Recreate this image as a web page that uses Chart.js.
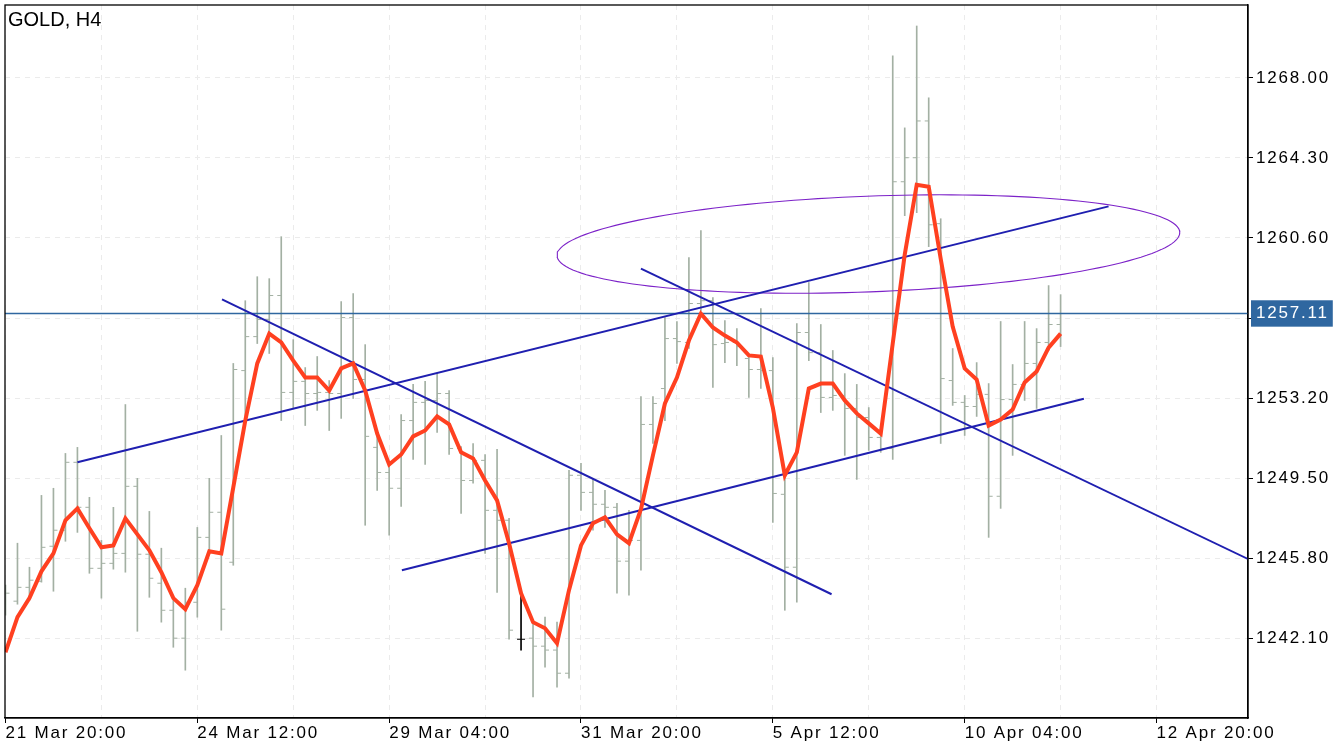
<!DOCTYPE html>
<html>
<head>
<meta charset="utf-8">
<title>GOLD, H4</title>
<script src="https://cdn.jsdelivr.net/npm/chart.js@4.4.1/dist/chart.umd.min.js"></script>
<style>
  html, body { margin: 0; padding: 0; background: #fff; }
  #wrap { position: relative; width: 1334px; height: 750px; }
  #title { position: absolute; left: 8px; top: 9px; font: 20px/20px "Liberation Sans", Arial, sans-serif; color: #000; }
</style>
</head>
<body>
<div id="wrap">
  <canvas id="chart" width="1334" height="750"></canvas>
  <div id="title">GOLD, H4</div>
</div>
<script>
// H4 bars, one value per bar (bar 0 = 21 Mar 20:00)
const opens = [
  1243.62, 1243.81, 1244.45, 1244.73, 1246.35, 1247.09, 1250.23, 1248.15, 1245.33, 1245.56,
  1246.02, 1249.12, 1245.98, 1244.64, 1243.39, 1242.10, 1243.76, 1246.76, 1247.92, 1245.61,
  1254.47, 1256.04, 1256.83, 1257.94, 1253.46, 1253.97, 1253.41, 1253.46, 1253.41, 1256.92,
  1254.06, 1250.92, 1249.76, 1249.03, 1252.16, 1253.00, 1253.09, 1253.41, 1250.87, 1249.39,
  1250.32, 1248.01, 1247.55, 1242.05, 1242.10, 1241.73, 1241.55, 1240.48, 1249.63, 1248.84,
  1248.29, 1248.15, 1245.66, 1246.62, 1251.98, 1253.64, 1255.95, 1255.77, 1257.57, 1257.70,
  1255.72, 1255.77, 1255.03, 1254.52, 1254.47, 1248.75, 1245.38, 1256.23, 1255.30, 1253.23,
  1253.32, 1252.72, 1252.30, 1251.38, 1250.87, 1263.20, 1264.31, 1266.01, 1261.26, 1254.01,
  1253.00, 1252.81, 1253.37, 1248.66, 1253.13, 1253.83, 1254.80, 1255.77, 1256.60
];
const highs = [
  1244.55, 1246.49, 1245.38, 1248.70, 1249.03, 1250.64, 1250.92, 1248.61, 1246.62, 1248.15,
  1252.90, 1249.49, 1247.96, 1246.26, 1243.85, 1244.41, 1247.22, 1249.49, 1251.47, 1254.80,
  1257.70, 1258.81, 1258.72, 1260.66, 1255.90, 1254.61, 1255.12, 1254.01, 1257.66, 1258.03,
  1255.67, 1251.56, 1250.09, 1252.44, 1253.83, 1253.97, 1254.33, 1253.55, 1250.96, 1251.10,
  1250.59, 1250.83, 1247.64, 1244.04, 1242.79, 1243.07, 1242.84, 1249.86, 1250.18, 1249.44,
  1248.93, 1248.33, 1248.01, 1253.27, 1253.27, 1256.92, 1256.74, 1259.69, 1260.94, 1257.84,
  1256.78, 1256.41, 1255.17, 1257.34, 1255.07, 1249.53, 1256.64, 1258.54, 1256.60, 1255.40,
  1254.33, 1253.83, 1252.76, 1251.70, 1269.02, 1265.69, 1270.40, 1267.08, 1261.49, 1255.49,
  1253.32, 1254.84, 1253.87, 1256.74, 1254.75, 1256.74, 1256.41, 1258.40, 1257.98
];
const lows = [
  1243.16, 1243.67, 1243.85, 1244.69, 1244.27, 1246.58, 1246.99, 1245.10, 1243.95, 1245.29,
  1245.15, 1242.42, 1243.99, 1242.84, 1241.68, 1240.62, 1243.07, 1246.07, 1242.47, 1245.47,
  1252.16, 1255.72, 1255.26, 1252.16, 1252.76, 1251.93, 1252.63, 1251.70, 1252.26, 1253.18,
  1247.32, 1248.93, 1246.86, 1248.19, 1250.36, 1250.13, 1251.61, 1250.59, 1247.87, 1249.26,
  1246.02, 1244.22, 1242.05, 1241.55, 1239.38, 1240.76, 1239.84, 1240.25, 1248.01, 1247.09,
  1247.22, 1244.18, 1244.09, 1245.24, 1251.10, 1252.16, 1254.80, 1255.49, 1257.24, 1253.69,
  1254.84, 1254.70, 1253.23, 1253.64, 1247.45, 1243.39, 1243.76, 1254.93, 1252.53, 1252.63,
  1250.55, 1249.44, 1250.78, 1250.69, 1250.36, 1261.63, 1261.77, 1260.20, 1251.10, 1252.86,
  1251.47, 1252.35, 1246.76, 1248.10, 1250.55, 1253.09, 1252.72, 1255.40, 1255.58
];
const closes = [
  1244.18, 1244.45, 1244.78, 1246.30, 1247.09, 1250.23, 1248.15, 1245.33, 1245.56, 1246.02,
  1249.12, 1245.98, 1244.87, 1243.39, 1242.10, 1243.76, 1246.76, 1247.92, 1243.44, 1254.52,
  1256.04, 1256.83, 1257.94, 1253.46, 1253.97, 1253.41, 1253.46, 1253.41, 1256.92, 1254.06,
  1251.43, 1249.76, 1249.03, 1252.16, 1253.00, 1253.09, 1253.41, 1250.87, 1249.39, 1250.32,
  1248.01, 1247.55, 1242.47, 1242.05, 1241.73, 1241.55, 1240.48, 1249.63, 1248.84, 1248.29,
  1248.15, 1245.66, 1246.62, 1251.98, 1252.95, 1255.95, 1255.81, 1257.57, 1257.70, 1255.67,
  1255.77, 1255.58, 1254.52, 1254.47, 1248.79, 1245.38, 1256.23, 1255.30, 1253.23, 1253.32,
  1252.72, 1252.30, 1251.38, 1250.87, 1263.20, 1264.31, 1266.01, 1261.21, 1254.10, 1253.00,
  1252.81, 1253.37, 1248.66, 1253.13, 1253.83, 1254.80, 1255.77, 1256.60, 1257.11
];
// moving average (red line)
const maValues = [
  1241.45, 1243.07, 1243.95, 1245.19, 1246.02, 1247.55, 1248.10, 1247.18, 1246.30, 1246.39,
  1247.64, 1246.90, 1246.16, 1245.15, 1243.95, 1243.44, 1244.55, 1246.12, 1246.02, 1249.07,
  1252.16, 1254.80, 1256.18, 1255.77, 1254.93, 1254.15, 1254.15, 1253.55, 1254.57, 1254.80,
  1253.55, 1251.56, 1250.13, 1250.59, 1251.43, 1251.70, 1252.35, 1251.98, 1250.69, 1250.41,
  1249.39, 1248.47, 1246.49, 1244.18, 1242.84, 1242.56, 1241.87, 1244.32, 1246.39, 1247.41,
  1247.69, 1246.90, 1246.49, 1248.06, 1250.55, 1252.95, 1254.15, 1255.86, 1257.10, 1256.46,
  1256.09, 1255.77, 1255.17, 1255.12, 1252.76, 1249.63, 1250.69, 1253.64, 1253.87, 1253.87,
  1253.09, 1252.49, 1252.03, 1251.56, 1255.72, 1259.83, 1263.06, 1262.97, 1259.64, 1256.50,
  1254.57, 1254.06, 1251.93, 1252.21, 1252.67, 1253.92, 1254.43, 1255.53, 1256.18
];

// drawn objects: [bar, price] anchor points
const trendLine1 = [[6, 1250.23], [92, 1262.06]];
const trendLine2 = [[18.06, 1257.76], [68.9, 1244.13]];
const trendLine3 = [[33.06, 1245.24], [89.94, 1253.17]];
const trendRay = [[53, 1259.18], [103.67, 1245.75]];
const ellipseAxisStart = [46.0, 1259.78];
const ellipseAxisEnd = [97.94, 1260.86];
const ellipseMinorAxis = [0.15, -2.21]; // half short axis as [bars, price]

// axes
const yTickValues = [1242.10, 1245.80, 1249.50, 1253.20, 1256.90, 1260.60, 1264.30, 1268.00];
const xTickLabels = ['21 Mar 20:00', '24 Mar 12:00', '29 Mar 04:00', '31 Mar 20:00', '5 Apr 12:00', '10 Apr 04:00', '12 Apr 20:00'];
const xGridStep = 8;    // bars between grid lines
const xLabelStep = 16;  // bars between labels
const xMin = -0.04, xMax = 103.63;
const yMin = 1238.41, yMax = 1271.37;

const lastPrice = closes[closes.length - 1];

const barColor = '#a3b0a3';
const dojiColor = '#000000';
const gridColor = '#ebebeb';
const priceColor = '#2f67a0';
const clear = 'rgba(0,0,0,0)';
const fontFamily = "'Liberation Sans', Arial, sans-serif";

const barColors = opens.map((o, i) => o === closes[i] ? dojiColor : barColor);
const tickOffset = 2 / 12; // open/close ticks sit just left/right of the bar

const xTickPositions = [];
for (let v = 0; v <= xMax; v += xGridStep) xTickPositions.push(v);

const ellipsePoints = [];
const ecx = (ellipseAxisStart[0] + ellipseAxisEnd[0]) / 2;
const ecy = (ellipseAxisStart[1] + ellipseAxisEnd[1]) / 2;
const eux = (ellipseAxisEnd[0] - ellipseAxisStart[0]) / 2;
const euy = (ellipseAxisEnd[1] - ellipseAxisStart[1]) / 2;
for (let k = 0; k <= 160; k++) {
    const t = k / 160 * Math.PI * 2;
    ellipsePoints.push({
        x: ecx + eux * Math.cos(t) + ellipseMinorAxis[0] * Math.sin(t),
        y: ecy + euy * Math.cos(t) + ellipseMinorAxis[1] * Math.sin(t)
    });
}

const toPoints = (pairs) => pairs.map(p => ({ x: p[0], y: p[1] }));

const objectLine = (pairs, color, width, order) => ({
    type: 'line',
    data: toPoints(pairs),
    borderColor: color,
    borderWidth: width,
    pointRadius: 0,
    tension: 0,
    order: order
});

// canvas letter spacing for the axis labels
const spacing = {
    id: 'spacing',
    beforeLayout(chart) { chart.ctx.letterSpacing = '1.8px'; },
    beforeDraw(chart) { chart.ctx.letterSpacing = '1.8px'; }
};

// black frame round the plot area
const frame = {
    id: 'frame',
    afterDatasetsDraw(chart) {
        const { ctx, chartArea: a } = chart;
        ctx.save();
        ctx.strokeStyle = '#000';
        ctx.lineWidth = 1.3;
        ctx.strokeRect(a.left, a.top, a.right - a.left, a.bottom - a.top);
        ctx.restore();
    }
};

new Chart(document.getElementById('chart').getContext('2d'), {
    type: 'line',
    data: {
        datasets: [
            {
                type: 'line',
                label: 'MA',
                data: maValues.map((v, i) => ({ x: i, y: v })),
                borderColor: '#ff4020',
                borderWidth: 4,
                pointRadius: 0,
                tension: 0,
                order: 0
            },
            objectLine(trendLine1, '#1f1fb0', 2, 1),
            objectLine(trendLine2, '#1f1fb0', 2, 1),
            objectLine(trendLine3, '#1f1fb0', 2, 1),
            objectLine(trendRay, '#1f1fb0', 2, 1),
            {
                type: 'line',
                data: ellipsePoints,
                borderColor: '#7c22c8',
                borderWidth: 1.1,
                pointRadius: 0,
                tension: 0,
                order: 2
            },
            {
                type: 'line',
                data: [{ x: xMin, y: lastPrice }, { x: xMax, y: lastPrice }],
                borderColor: priceColor,
                borderWidth: 1.3,
                pointRadius: 0,
                order: 3
            },
            {
                type: 'line',
                label: 'Open',
                data: opens.map((v, i) => ({ x: i - tickOffset, y: v })),
                showLine: false,
                pointStyle: 'line',
                pointRadius: 2,
                pointBorderWidth: 1,
                pointBorderColor: barColors,
                pointBackgroundColor: barColors,
                order: 4
            },
            {
                type: 'line',
                label: 'Close',
                data: closes.map((v, i) => ({ x: i + tickOffset, y: v })),
                showLine: false,
                pointStyle: 'line',
                pointRadius: 2,
                pointBorderWidth: 1,
                pointBorderColor: barColors,
                pointBackgroundColor: barColors,
                order: 4
            },
            {
                type: 'bar',
                label: 'High-Low',
                data: lows.map((v, i) => ({ x: i, y: [v, highs[i]] })),
                backgroundColor: barColors,
                borderWidth: 0,
                barThickness: 1,
                grouped: false,
                order: 5
            }
        ]
    },
    options: {
        responsive: false,
        animation: false,
        events: [],
        layout: { padding: { left: 4, top: 4, right: 0, bottom: 0 } },
        plugins: {
            legend: { display: false },
            tooltip: { enabled: false }
        },
        scales: {
            x: {
                type: 'linear',
                min: xMin,
                max: xMax,
                offset: false,
                afterBuildTicks: (scale) => { scale.ticks = xTickPositions.map(v => ({ value: v })); },
                afterFit: (scale) => { scale.height = 32; scale.paddingLeft = 0; },
                grid: {
                    offset: false,
                    color: gridColor,
                    lineWidth: 1,
                    tickLength: 5,
                    tickWidth: 1,
                    tickColor: (c) => (c.tick && c.tick.value % xLabelStep === 0) ? '#000' : clear
                },
                border: { color: '#000', width: 1.3, dash: [5, 5] },
                ticks: {
                    autoSkip: false,
                    maxRotation: 0,
                    align: 'start',
                    padding: 0,
                    color: '#000',
                    font: { family: fontFamily, size: 17 },
                    callback: (v) => v % xLabelStep === 0 ? xTickLabels[v / xLabelStep] : ''
                }
            },
            y: {
                type: 'linear',
                position: 'right',
                min: yMin,
                max: yMax,
                beginAtZero: false,
                afterBuildTicks: (scale) => {
                    scale.ticks = yTickValues.concat([lastPrice]).sort((a, b) => a - b).map(v => ({ value: v }));
                },
                afterFit: (scale) => {
                    scale.width = 86;
                    scale.paddingTop = 0;
                    scale.paddingBottom = 0;
                },
                grid: {
                    color: (c) => (c.tick && c.tick.value === lastPrice) ? clear : gridColor,
                    lineWidth: 1,
                    tickLength: 5,
                    tickWidth: 1,
                    tickColor: (c) => (c.tick && c.tick.value === lastPrice) ? clear : '#000'
                },
                border: { color: '#000', width: 1.3, dash: [5, 5] },
                ticks: {
                    autoSkip: false,
                    padding: 3,
                    font: { family: fontFamily, size: 17 },
                    color: (c) => (c.tick && c.tick.value === lastPrice) ? '#fff' : '#000',
                    showLabelBackdrop: (c) => !!(c.tick && c.tick.value === lastPrice),
                    backdropColor: priceColor,
                    backdropPadding: { top: 3, bottom: 3, left: 5, right: 4 },
                    callback: (v) => (v !== lastPrice && Math.abs(v - lastPrice) < 1) ? '' : v.toFixed(2)
                }
            }
        }
    },
    plugins: [spacing, frame]
});
</script>
</body>
</html>
